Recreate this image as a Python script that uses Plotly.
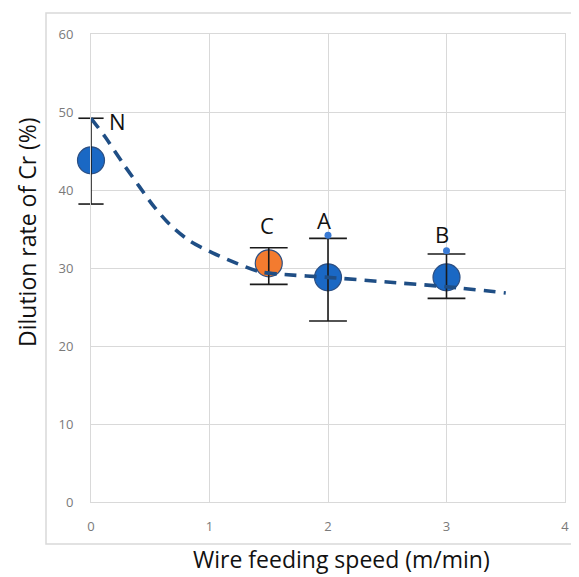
import plotly.graph_objects as go

# Data points
labels = ["N", "C", "A", "B"]
speed = [0.0, 1.5, 2.0, 3.0]
dilution = [43.8, 30.6, 28.8, 28.8]
err_plus = [5.4, 2.0, 5.0, 3.0]
err_minus = [5.6, 2.7, 5.6, 2.7]

# small top dots
dot_x = [2.0, 3.0]
dot_y = [34.2, 32.2]

# dashed trend curve
curve_x = [0.0, 0.12, 0.27, 0.41, 0.53, 0.67, 0.84, 1.03, 1.23, 1.43, 1.6, 2.0, 2.5, 3.0, 3.5]
curve_y = [49.2, 46.8, 43.4, 40.4, 37.9, 35.5, 33.4, 31.9, 30.6, 29.5, 29.2, 28.8, 28.2, 27.6, 26.8]

# label positions
label_x = [0.22, 1.485, 1.97, 2.96]
label_y = [48.8, 35.5, 36.2, 34.4]

x_ticks = [0, 1, 2, 3, 4]
y_ticks = [0, 10, 20, 30, 40, 50, 60]

BLUE = "#1a68c4"
ORANGE = "#f37b2f"
EDGE = "#2d4f82"
BAR = "#1a1a1a"
FONT = "Open Sans, Noto Sans, sans-serif"

# page body has an 8px margin: plot area at x 91..565, y 34..502 in window
L, T, W, H = 83, 26, 474, 468
fig = go.Figure()

colors = [BLUE, ORANGE, BLUE, BLUE]
capsize = [18, 27, 27, 27]
for i in range(len(labels)):
    fig.add_trace(go.Scatter(
        x=[speed[i]], y=[dilution[i]], mode="markers",
        marker=dict(size=27, color=colors[i], line=dict(color=EDGE, width=1.2)),
        showlegend=False, hoverinfo="skip", cliponaxis=False,
    ))

# error bars (drawn on top of the markers)
for i in range(len(labels)):
    lo = dilution[i] - err_minus[i]
    hi = dilution[i] + err_plus[i]
    fig.add_trace(go.Scatter(
        x=[speed[i], speed[i]], y=[lo, hi], mode="lines",
        line=dict(color=BAR, width=1.6),
        showlegend=False, hoverinfo="skip", cliponaxis=False,
    ))
    fig.add_trace(go.Scatter(
        x=[speed[i], speed[i]], y=[lo, hi], mode="markers",
        marker=dict(symbol="line-ew-open", size=capsize[i], color=BAR, line=dict(color=BAR, width=1.6)),
        showlegend=False, hoverinfo="skip", cliponaxis=False,
    ))

fig.add_trace(go.Scatter(
    x=dot_x, y=dot_y, mode="markers",
    marker=dict(size=7, color="#3a7bd5"), showlegend=False, cliponaxis=False,
))

fig.add_trace(go.Scatter(
    x=curve_x, y=curve_y, mode="lines",
    line=dict(color="#1f4e85", width=3.6, dash="12px,8px", shape="spline", smoothing=0.8),
    showlegend=False, cliponaxis=False,
))

for t, lx, ly in zip(labels, label_x, label_y):
    fig.add_annotation(x=lx, y=ly, text=t, showarrow=False,
                       font=dict(family=FONT, size=22, color="#111111"))

# axis titles (positions in window pixels converted to paper coords)
fig.add_annotation(xref="paper", yref="paper", x=(341 - 91) / W, y=(502 - 559) / H,
                   xanchor="center", yanchor="middle", showarrow=False,
                   text="Wire feeding speed (m/min)", font=dict(family=FONT, size=23, color="#111111"))
fig.add_annotation(xref="paper", yref="paper", x=(27 - 91) / W, y=(502 - 232) / H,
                   xanchor="center", yanchor="middle", showarrow=False, textangle=-90,
                   text="Dilution rate of Cr (%)", font=dict(family=FONT, size=23, color="#111111"))

fig.add_shape(type="rect", xref="paper", yref="paper",
              x0=(46 - 91) / W, x1=1.12, y0=(502 - 544) / H, y1=(502 - 13) / H,
              line=dict(color="#d9d9d9", width=1.5), fillcolor="rgba(0,0,0,0)", layer="below")

fig.update_layout(
    width=579, height=577,
    margin=dict(l=L, r=579 - L - W, t=T, b=577 - T - H, autoexpand=False),
    paper_bgcolor="white", plot_bgcolor="white",
    font=dict(family=FONT, color="#111111"),
    xaxis=dict(
        range=[0, 4], tickvals=x_ticks, ticktext=[str(v) for v in x_ticks],
        showgrid=True, gridcolor="#d9d9d9", gridwidth=1, zeroline=False,
        showline=True, mirror=True, linecolor="#d9d9d9", linewidth=1,
        ticks="outside", ticklen=12, tickcolor="rgba(0,0,0,0)",
        tickfont=dict(size=13, color="#7a7a7a"), automargin=False,
    ),
    yaxis=dict(
        range=[0, 60], tickvals=y_ticks, ticktext=[str(v) for v in y_ticks],
        showgrid=True, gridcolor="#d9d9d9", gridwidth=1, zeroline=False,
        showline=True, mirror=True, linecolor="#d9d9d9", linewidth=1,
        ticks="outside", ticklen=14, tickcolor="rgba(0,0,0,0)",
        tickfont=dict(size=13, color="#7a7a7a"), automargin=False,
    ),
)

fig.write_html("out.html")
